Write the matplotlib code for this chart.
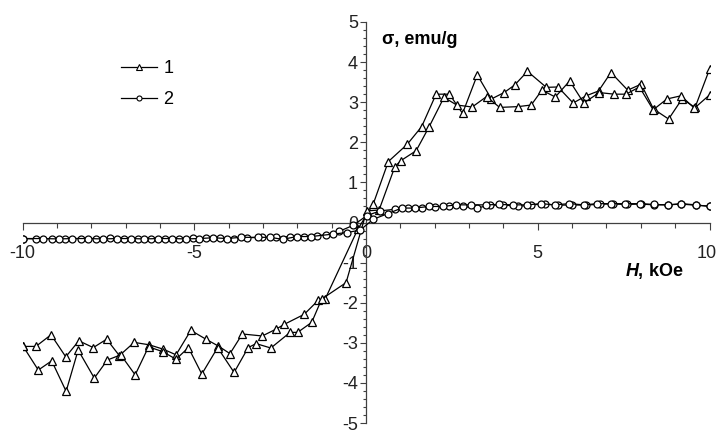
import matplotlib
matplotlib.use("Agg")
import matplotlib.pyplot as plt
from matplotlib.ticker import MultipleLocator, FixedLocator
from matplotlib.lines import Line2D
from matplotlib.transforms import ScaledTranslation

plt.rcParams['font.family'] = ['Liberation Sans', 'DejaVu Sans']
plt.rcParams['axes.unicode_minus'] = False
plt.rcParams['mathtext.fontset'] = 'custom'
plt.rcParams['mathtext.rm'] = 'Liberation Sans'
plt.rcParams['mathtext.it'] = 'Liberation Sans:italic'
plt.rcParams['mathtext.bf'] = 'Liberation Sans:bold'
plt.rcParams['mathtext.bfit'] = 'Liberation Sans:italic:bold'

# ---- Series 1 (triangles): two branches of the loop ----
h1_down = [-9.98, -9.61, -9.17, -8.74, -8.36, -7.94, -7.55, -7.18, -6.75, -6.31,
           -5.90, -5.53, -5.10, -4.66, -4.30, -3.96, -3.60, -3.02, -2.62, -2.38,
           -1.80, -1.39, -1.19, -0.24, 0.21, 0.65, 1.20, 1.62, 2.04, 2.43,
           2.81, 3.24, 3.65, 4.02, 4.33, 4.70, 5.25, 5.59, 6.03, 6.41,
           6.77, 7.13, 7.62, 8.01, 8.37, 8.81, 9.20, 9.58, 10.0]
s1_down = [-3.09, -3.09, -2.80, -3.35, -2.95, -3.12, -2.91, -3.32, -2.99, -3.05,
           -3.16, -3.30, -2.69, -2.91, -3.08, -3.27, -2.78, -2.83, -2.66, -2.54,
           -2.29, -1.94, -1.91, -0.17, 0.46, 1.52, 1.95, 2.39, 3.20, 3.20,
           2.72, 3.68, 3.08, 3.24, 3.43, 3.77, 3.37, 3.38, 2.98, 3.16,
           3.28, 3.74, 3.30, 3.45, 2.83, 2.58, 3.08, 2.87, 3.82]

h1_up = [-9.98, -9.54, -9.15, -8.73, -8.38, -7.91, -7.53, -7.14, -6.72, -6.33,
         -5.92, -5.53, -5.17, -4.78, -4.32, -3.84, -3.43, -3.20, -2.77, -2.21,
         -1.99, -1.58, -1.29, -0.58, 0.02, 0.38, 0.84, 1.01, 1.46, 1.84,
         2.27, 2.64, 3.09, 3.51, 3.89, 4.43, 4.81, 5.12, 5.51, 5.93,
         6.34, 6.79, 7.23, 7.57, 7.96, 8.36, 8.76, 9.17, 9.56, 10.0]
s1_up = [-3.09, -3.68, -3.45, -4.21, -3.18, -3.88, -3.43, -3.30, -3.80, -3.10,
         -3.22, -3.41, -3.12, -3.78, -3.12, -3.74, -3.12, -3.02, -3.13, -2.74,
         -2.74, -2.49, -1.91, -1.50, 0.29, 0.31, 1.39, 1.54, 1.79, 2.39,
         3.12, 2.93, 2.88, 3.14, 2.87, 2.89, 2.93, 3.30, 3.13, 3.53,
         2.98, 3.24, 3.20, 3.20, 3.38, 2.81, 3.08, 3.16, 2.85, 3.18]

# ---- Series 2 (circles): two branches ----
h2_down = [-10.0, -9.6, -9.15, -8.75, -8.30, -7.85, -7.45, -7.05, -6.65, -6.25,
           -5.85, -5.45, -5.05, -4.65, -4.25, -3.85, -3.45, -3.02, -2.62, -2.20,
           -1.80, -1.43, -1.16, -0.78, -0.37, 0.02, 0.41, 0.84, 1.23, 1.62,
           2.00, 2.43, 2.82, 3.22, 3.60, 4.00, 4.43, 4.80, 5.20, 5.60,
           6.00, 6.40, 6.80, 7.20, 7.60, 8.00, 8.38, 8.80, 9.18, 9.60, 10.0]
s2_down = [-0.40, -0.41, -0.40, -0.40, -0.40, -0.40, -0.39, -0.40, -0.40, -0.41,
           -0.40, -0.40, -0.39, -0.38, -0.38, -0.40, -0.38, -0.37, -0.37, -0.35,
           -0.35, -0.34, -0.30, -0.22, -0.07, 0.17, 0.29, 0.33, 0.36, 0.36,
           0.38, 0.40, 0.40, 0.36, 0.43, 0.44, 0.40, 0.44, 0.46, 0.43,
           0.44, 0.43, 0.46, 0.46, 0.45, 0.46, 0.44, 0.44, 0.46, 0.43, 0.41]

h2_up = [-10.0, -9.4, -8.95, -8.55, -8.10, -7.65, -7.25, -6.85, -6.45, -6.05,
         -5.65, -5.25, -4.85, -4.45, -4.05, -3.65, -3.15, -2.79, -2.43, -2.01,
         -1.60, -0.97, -0.55, -0.17, 0.21, 0.63, 1.04, 1.42, 1.84, 2.25,
         2.62, 3.05, 3.49, 3.87, 4.28, 4.69, 5.10, 5.49, 5.92, 6.34,
         6.73, 7.14, 7.55, 7.97, 8.38, 8.80, 9.18, 9.60, 10.0]
s2_up = [-0.40, -0.40, -0.41, -0.40, -0.40, -0.41, -0.40, -0.40, -0.41, -0.40,
         -0.40, -0.41, -0.40, -0.38, -0.40, -0.37, -0.37, -0.37, -0.42, -0.35,
         -0.35, -0.29, -0.25, -0.19, 0.08, 0.22, 0.36, 0.36, 0.40, 0.40,
         0.44, 0.44, 0.44, 0.45, 0.44, 0.44, 0.47, 0.44, 0.47, 0.44,
         0.47, 0.47, 0.47, 0.47, 0.45, 0.44, 0.47, 0.44, 0.40]

legend_labels = ['1', '2']
x_major = [-10, -5, 0, 5, 10]
y_major = [-5, -4, -3, -2, -1, 0, 1, 2, 3, 4, 5]

W, Hh = 717, 432
fig = plt.figure(figsize=(W / 100, Hh / 100), dpi=100)
ax = fig.add_axes([22.5 / W, 9 / Hh, 687 / W, 401 / Hh])
ax.set_xlim(-10, 10)
ax.set_ylim(-5, 5)

tri = dict(color='black', lw=0.9, marker='^', ms=6.3, mfc='white', mec='black', mew=0.9)
cir = dict(color='black', lw=0.9, marker='o', ms=5.0, mfc='white', mec='black', mew=0.9)
ax.plot(h1_down, s1_down, **tri, zorder=3)
ax.plot(h1_up, s1_up, **tri, zorder=3)
ax.plot(h2_down, s2_down, **cir, zorder=4)
ax.plot(h2_up, s2_up, **cir, zorder=4)

# spines through the origin
for s in ['top', 'right']:
    ax.spines[s].set_visible(False)
ax.spines['left'].set_position(('data', 0))
ax.spines['bottom'].set_position(('data', 0))
for s in ['left', 'bottom']:
    ax.spines[s].set_color('#404040')
    ax.spines[s].set_linewidth(0.9)
    ax.spines[s].set_zorder(2)

ax.xaxis.set_major_locator(FixedLocator(x_major))
ax.xaxis.set_minor_locator(MultipleLocator(1))
ax.yaxis.set_major_locator(FixedLocator(y_major))
ax.yaxis.set_minor_locator(MultipleLocator(0.2))
ax.set_xticklabels([str(v) for v in x_major])
ax.set_yticklabels([str(v) for v in y_major])

ax.tick_params(axis='x', which='major', direction='out', length=5, width=0.8,
               color='#404040', labelsize=13, pad=11.5)
ax.tick_params(axis='x', which='minor', direction='out', length=3.5, width=0.8, color='#404040')
ax.tick_params(axis='y', which='major', direction='out', length=4.3, width=0.8,
               color='#404040', labelsize=13, pad=1.5)
ax.tick_params(axis='y', which='minor', direction='out', length=2.5, width=0.8, color='#404040')
for lab in ax.get_xticklabels() + ax.get_yticklabels():
    lab.set_color('#222222')
# keep the last x label inside the canvas
last = ax.get_xticklabels()[-1]
last.set_transform(last.get_transform() + ScaledTranslation(-3 / 100, 0, fig.dpi_scale_trans))

ax.text(0.47, 4.57, 'σ, emu/g', fontsize=13, fontweight='bold', ha='left', va='center')
ax.text(7.54, -1.22, r'$\mathbfit{H}$, kOe', fontsize=13, fontweight='bold', ha='left', va='center')

handles = [Line2D([], [], color='black', lw=0.9, marker='^', ms=4.2, mfc='white', mec='black', mew=0.8),
           Line2D([], [], color='black', lw=0.9, marker='o', ms=3.6, mfc='white', mec='black', mew=0.8)]
leg = ax.legend(handles, legend_labels, loc='upper left', bbox_to_anchor=(121 / W, 1 - 60 / Hh),
                bbox_transform=fig.transFigure, frameon=False, fontsize=13, handlelength=2.0,
                handletextpad=0.35, labelspacing=0.8, borderpad=0, borderaxespad=0)

fig.savefig('out.png', dpi=100)
